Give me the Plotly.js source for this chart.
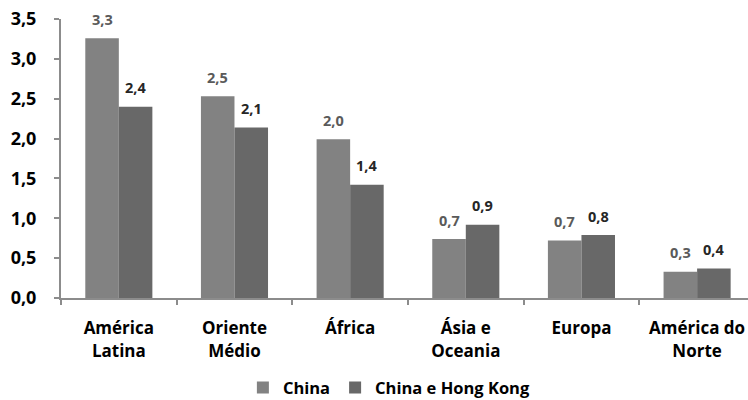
<!DOCTYPE html>
<html>
<head>
<meta charset="utf-8">
<script src="https://cdn.plot.ly/plotly-3.0.1.min.js"></script>
<style>
  html, body { margin: 0; padding: 0; background: #fff; overflow: hidden; }
  #chart { width: 748px; height: 400px; }
</style>
</head>
<body>
<div id="chart"></div>
<script>
// Regions and values for each series
const categories = ["América<br>Latina", "Oriente<br>Médio", "África", "Ásia e<br>Oceania", "Europa", "América do<br>Norte"];
const china = [3.26, 2.53, 1.99, 0.74, 0.72, 0.33];
const chinaHK = [2.40, 2.14, 1.42, 0.92, 0.79, 0.37];
const seriesNames = ["China", "China e Hong Kong"];
const yTicks = [0, 0.5, 1, 1.5, 2, 2.5, 3, 3.5];

const fontFamily = "'Open Sans', Lato, sans-serif";
const lightGray = "#828282";
const darkGray = "#686868";

const traces = [
  { type: "bar", name: seriesNames[0], x: categories, y: china,
    marker: { color: lightGray }, hoverinfo: "none" },
  { type: "bar", name: seriesNames[1], x: categories, y: chinaHK,
    marker: { color: darkGray }, hoverinfo: "none" }
];

// value labels above each bar, formatted with one decimal and comma
const fmt = v => v.toFixed(1).replace(".", ",");
const annotations = [];
const offset = 0.145;
categories.forEach((c, i) => {
  annotations.push({ x: i - offset, y: china[i], xref: "x", yref: "y", text: fmt(china[i]),
    showarrow: false, yanchor: "middle", yshift: 19,
    font: { family: fontFamily, size: 14.5, color: "#5a5a5a", weight: "bold" } });
  annotations.push({ x: i + offset, y: chinaHK[i], xref: "x", yref: "y", text: fmt(chinaHK[i]),
    showarrow: false, yanchor: "middle", yshift: 19,
    font: { family: fontFamily, size: 14.5, color: "#262626", weight: "bold" } });
});

const layout = {
  width: 748, height: 400,
  margin: { l: 61, r: 0, t: 19, b: 101.5, autoexpand: false },
  paper_bgcolor: "#fff", plot_bgcolor: "#fff",
  separators: ",.",
  barmode: "group", bargap: 0.42, bargroupgap: 0,
  font: { family: fontFamily, color: "#000" },
  xaxis: {
    type: "category", range: [-0.5, 5.44], automargin: false,
    showline: true, linecolor: "#8c8c8c", linewidth: 2,
    ticks: "outside", tickson: "boundaries", ticklen: 5, tickwidth: 2, tickcolor: "#8c8c8c",
    ticklabelstandoff: 14,
    tickfont: { family: fontFamily, size: 17, color: "#000", weight: "bold" },
    showgrid: false, zeroline: false
  },
  yaxis: {
    range: [0, 3.5], tickvals: yTicks, tickformat: ".1f", automargin: false,
    showline: true, linecolor: "#8c8c8c", linewidth: 2,
    ticks: "outside", ticklen: 5, tickwidth: 2, tickcolor: "#8c8c8c",
    ticklabelstandoff: 14,
    tickfont: { family: fontFamily, size: 18, color: "#000", weight: "bold" },
    showgrid: false, zeroline: false
  },
  showlegend: true,
  legend: {
    orientation: "h", x: 0.478, xanchor: "center", y: -0.322, yanchor: "middle",
    font: { family: fontFamily, size: 16.5, color: "#000", weight: "bold" },
    itemclick: false, itemdoubleclick: false
  },
  annotations: annotations
};

Plotly.newPlot("chart", traces, layout, { displayModeBar: false, staticPlot: true });
</script>
</body>
</html>
